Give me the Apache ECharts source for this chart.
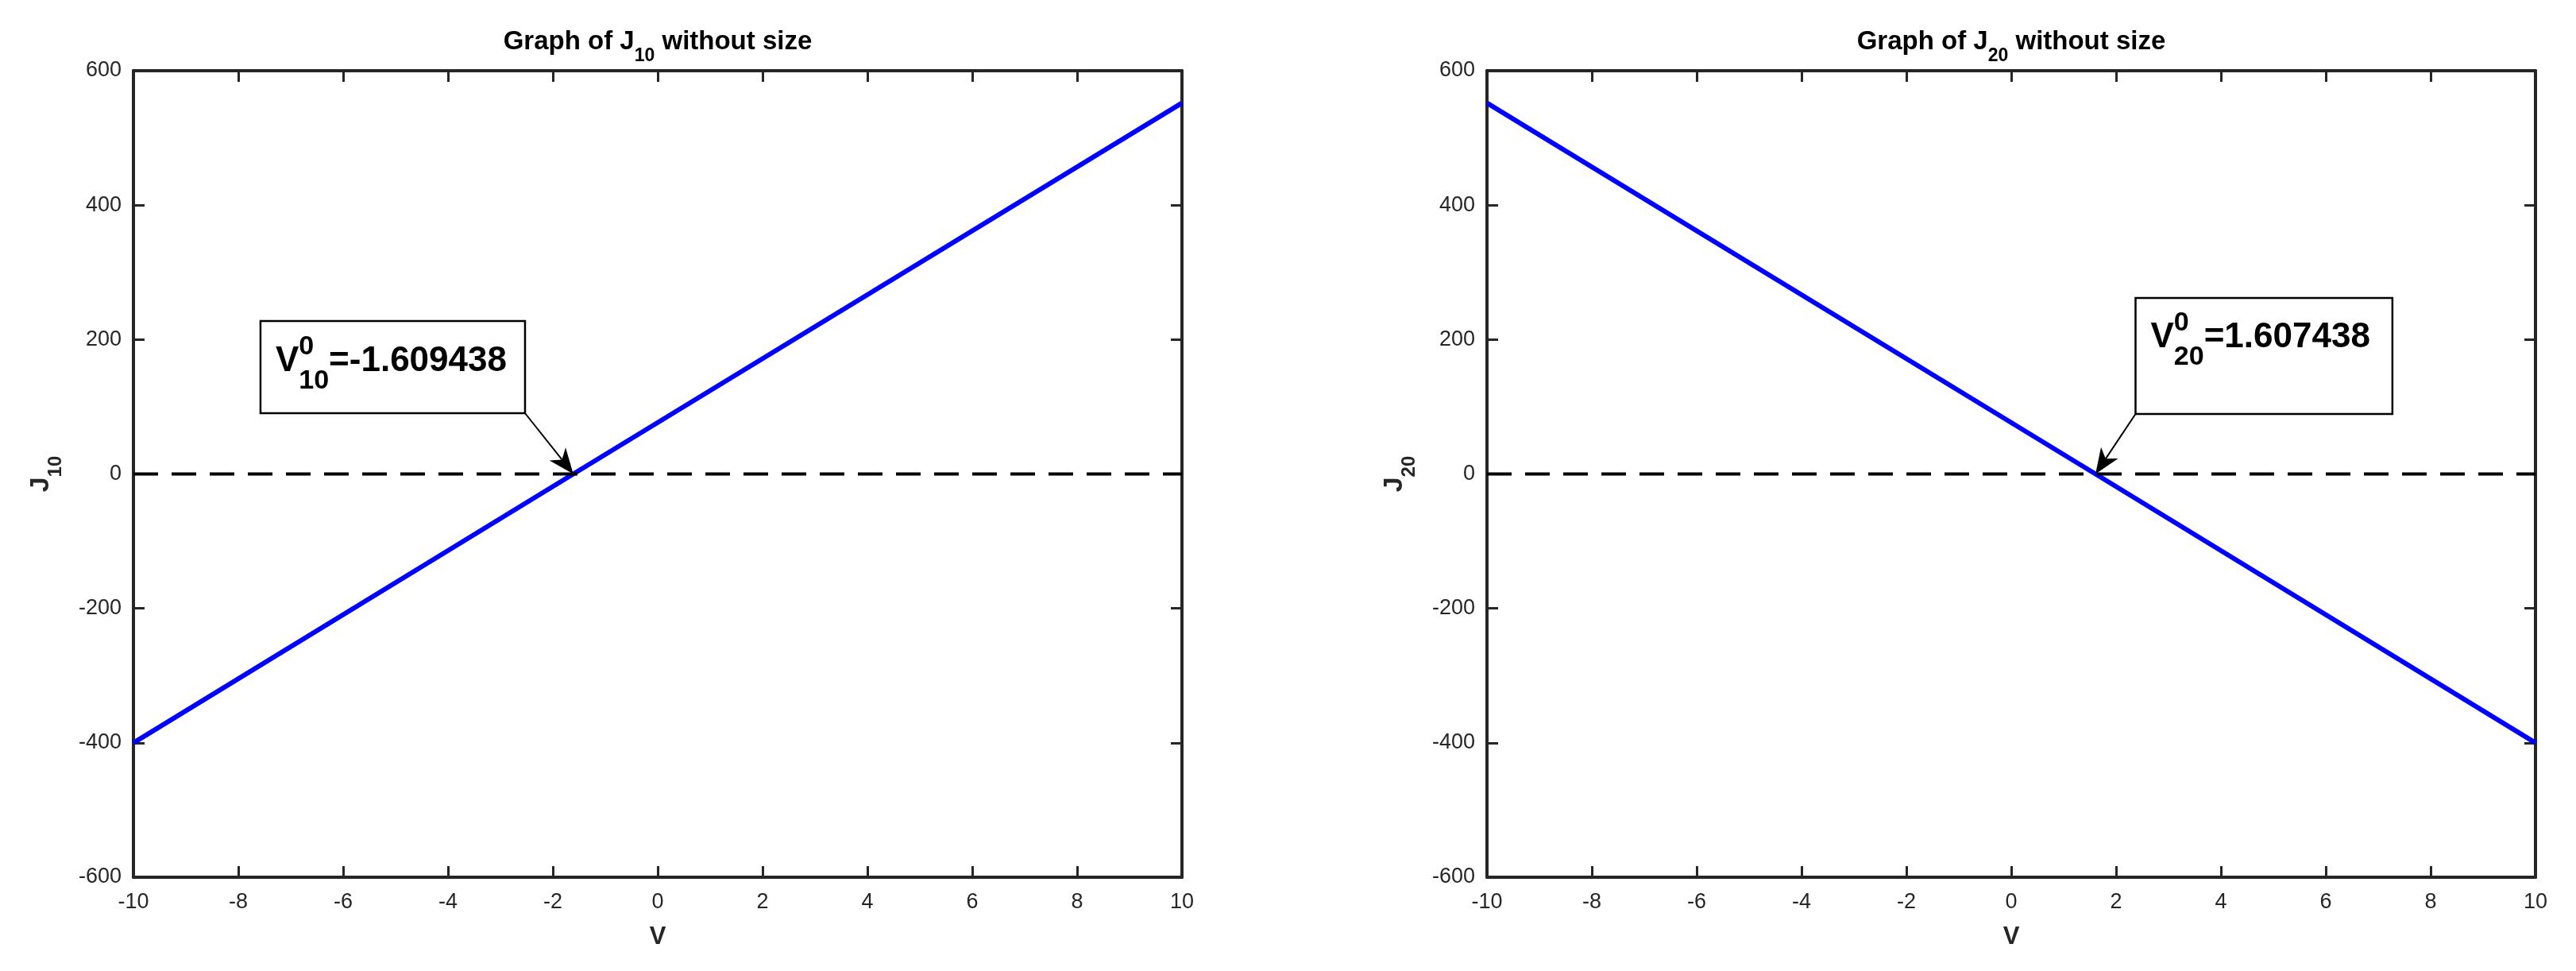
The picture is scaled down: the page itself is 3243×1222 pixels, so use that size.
<!DOCTYPE html>
<html><head><meta charset="utf-8">
<script src="https://cdn.jsdelivr.net/npm/echarts@6/dist/echarts.min.js"></script>
<style>html,body{margin:0;padding:0;background:#fff}#c{width:3243px;height:1222px}</style>
</head><body><div id="c"></div>
<script>
// ---- data ----
const V10 = [-10, -1.609438, 10];
const J10 = [-400, 0, 552];
const V20 = [-10, 1.607438, 10];
const J20 = [552, 0, -400];
const zeroLineX = [-10, 10];
const zeroLineY = [0, 0];
const roots = [-1.609438, 1.607438];
const rootLabels = ['=-1.609438', '=1.607438'];
const subs = ['10', '20'];
const xMin = -10, xMax = 10, xStep = 2;
const yMin = -600, yMax = 600, yStep = 200;

// ---- style ----
const FONT = '"Liberation Sans", Arial, Helvetica, sans-serif';
const AX = '#262626';
const GRIDS = [
  {left: 168, top: 89, width: 1320, height: 1015},
  {left: 1872, top: 89, width: 1320, height: 1015}
];

function xAxes(g) {
  const base = {type: 'value', gridIndex: g, min: xMin, max: xMax, interval: xStep,
    axisLine: {onZero: false, lineStyle: {color: AX, width: 4}},
    axisTick: {inside: true, length: 14, lineStyle: {color: AX, width: 3}},
    splitLine: {show: false}};
  return [
    Object.assign({}, base, {position: 'bottom',
      axisLabel: {fontSize: 27, color: AX, fontFamily: FONT, margin: 18},
      name: 'V', nameLocation: 'middle', nameGap: 60,
      nameTextStyle: {fontSize: 31, fontWeight: 'bold', color: AX, fontFamily: FONT}}),
    Object.assign({}, base, {position: 'top', axisLabel: {show: false}})
  ];
}
function yAxes(g) {
  const base = {type: 'value', gridIndex: g, min: yMin, max: yMax, interval: yStep,
    axisLine: {onZero: false, lineStyle: {color: AX, width: 4}},
    axisTick: {inside: true, length: 14, lineStyle: {color: AX, width: 3}},
    splitLine: {show: false}};
  return [
    Object.assign({}, base, {position: 'left',
      axisLabel: {fontSize: 27, color: AX, fontFamily: FONT, margin: 15}}),
    Object.assign({}, base, {position: 'right', axisLabel: {show: false}})
  ];
}
function zip(a, b) { return a.map((v, i) => [v, b[i]]); }

const series = [];
[[V10, J10], [V20, J20]].forEach((d, g) => {
  series.push({type: 'line', xAxisIndex: 2 * g, yAxisIndex: 2 * g, data: zip(d[0], d[1]),
    showSymbol: false, symbol: 'none', lineStyle: {color: '#0000ff', width: 6}, z: 2});
  series.push({type: 'line', xAxisIndex: 2 * g, yAxisIndex: 2 * g, data: zip(zeroLineX, zeroLineY),
    showSymbol: false, symbol: 'none', lineStyle: {color: '#000', width: 4, type: [31, 17]}, z: 3});
});

const chart = echarts.init(document.getElementById('c'), null, {renderer: 'canvas'});
chart.setOption({
  animation: false, backgroundColor: '#fff',
  textStyle: {fontFamily: FONT},
  grid: GRIDS,
  xAxis: [...xAxes(0), ...xAxes(1)],
  yAxis: [...yAxes(0), ...yAxes(1)],
  series: series
});

// ---- text helpers ----
const mctx = document.createElement('canvas').getContext('2d');
function measure(t, size, weight) { mctx.font = weight + ' ' + size + 'px ' + FONT; return mctx.measureText(t).width; }
function textEl(t, x, baseY, size, weight, fill) {
  return {type: 'text', x: x, y: baseY - 0.35 * size, z: 100, silent: true,
    style: {text: t, fontSize: size, fontWeight: weight, fontFamily: FONT, fill: fill || '#000',
      align: 'left', verticalAlign: 'middle', textAlign: 'left', textVerticalAlign: 'middle'}};
}
// list of {t,size,weight,dy,keep}; returns elements and total width
function pieces(list, x0, base, fill) {
  let x = x0; const els = []; let held = 0;
  list.forEach(p => {
    els.push(textEl(p.t, x, base + (p.dy || 0), p.size, p.weight, fill));
    const w = measure(p.t, p.size, p.weight);
    if (p.keep) { held = Math.max(held, w); }
    else { x += Math.max(w, held); held = 0; }
  });
  return {els: els, width: x - x0};
}
function titlePieces(sub) {
  return [
    {t: 'Graph of J', size: 33, weight: 'bold'},
    {t: sub, size: 23, weight: 'bold', dy: 15},
    {t: ' without size', size: 33, weight: 'bold'}
  ];
}

const graphic = [];
GRIDS.forEach((gr, g) => {
  // title
  const tp = titlePieces(subs[g]);
  const tw = pieces(tp, 0, 0).width;
  pieces(tp, gr.left + gr.width / 2 - tw / 2, 64).els.forEach(e => graphic.push(e));
  // y axis name (rotated)
  const yp = [{t: 'J', size: 34, weight: 'bold'}, {t: subs[g], size: 24, weight: 'bold', dy: 15}];
  const yw = pieces(yp, 0, 0).width;
  const cy = gr.top + gr.height / 2;
  graphic.push({type: 'group', x: gr.left - 104, y: cy, rotation: Math.PI / 2, z: 100,
    children: pieces(yp, -yw / 2, 0, AX).els});
});

// annotations
roots.forEach((r, g) => {
  const P = chart.convertToPixel({gridIndex: g}, [r, 0]);
  const ap = [
    {t: 'V', size: 44, weight: 'bold'},
    {t: '0', size: 34, weight: 'bold', dy: -21, keep: true},
    {t: subs[g], size: 34, weight: 'bold', dy: 22},
    {t: rootLabels[g], size: 44, weight: 'bold'}
  ];
  const w = pieces(ap, 0, 0).width;
  let bx, by, bh, bw, sx, sy, base;
  if (g === 0) {
    bw = w + 19 + 23;
    bh = 116; bx = P[0] - 60.8 - bw; by = P[1] - 192.5; sx = bx + bw; sy = by + bh; base = by + 66;
  } else {
    bw = w + 19 + 28;
    bh = 146; bx = P[0] + 50.4; by = P[1] - 221.5; sx = bx; sy = by + bh; base = by + 65;
  }
  graphic.push({type: 'rect', z: 99, silent: true, shape: {x: bx, y: by, width: bw, height: bh},
    style: {fill: '#fff', stroke: '#000', lineWidth: 2.5}});
  pieces(ap, bx + 19, base).els.forEach(e => graphic.push(e));
  // arrow
  const dx = P[0] - sx, dy = P[1] - sy, len = Math.hypot(dx, dy);
  const ux = dx / len, uy = dy / len, nx = -uy, ny = ux;
  const L = 32, W = 13, N = 9;
  const bxp = P[0] - L * ux, byp = P[1] - L * uy;
  const notch = [P[0] - (L - N) * ux, P[1] - (L - N) * uy];
  graphic.push({type: 'line', z: 101, silent: true, shape: {x1: sx, y1: sy, x2: notch[0], y2: notch[1]},
    style: {stroke: '#000', lineWidth: 2}});
  graphic.push({type: 'polygon', z: 102, silent: true,
    shape: {points: [[P[0], P[1]], [bxp + W * nx, byp + W * ny], notch, [bxp - W * nx, byp - W * ny]]},
    style: {fill: '#000'}});
});

chart.setOption({graphic: graphic});
</script>
</body></html>
